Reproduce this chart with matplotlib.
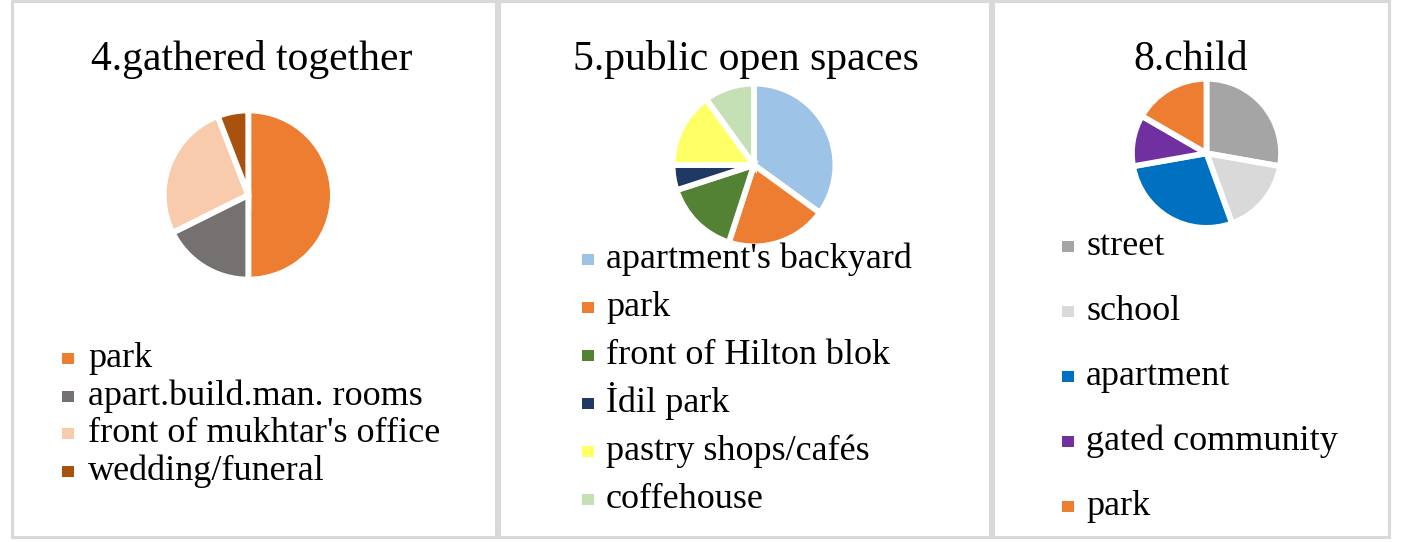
import matplotlib
matplotlib.use('Agg')
import matplotlib.pyplot as plt
from matplotlib.patches import Rectangle

plt.rcParams['font.family'] = ['Liberation Serif', 'DejaVu Serif']

# chart 4: where people gathered together (counts)
gather_labels = ['park', 'apart.build.man. rooms', "front of mukhtar's office", 'wedding/funeral']
gather_values = [17, 6, 9, 2]
gather_colors = ['#ED7D31', '#767171', '#F8CBAD', '#A9510F']

# chart 5: public open spaces (%)
open_labels = ["apartment's backyard", 'park', 'front of Hilton blok', 'İdil park',
               'pastry shops/cafés', 'coffehouse']
open_values = [35, 20, 15, 5, 15, 10]
open_colors = ['#9DC3E6', '#ED7D31', '#548235', '#203864', '#FFFF66', '#C5E0B4']

# chart 8: where the child plays (counts)
child_labels = ['street', 'school', 'apartment', 'gated community', 'park']
child_values = [5, 3, 5, 2, 3]
child_colors = ['#A5A5A5', '#D9D9D9', '#0070C0', '#7030A0', '#ED7D31']

W, H = 1427, 542
fig = plt.figure(figsize=(W / 100, H / 100), dpi=100)


def fx(x):
    return x / W


def fy(y):
    return 1 - y / H


# panel frames (left, right) in pixels
frames = [(12, 496), (499, 989.5), (992.5, 1389)]
for left, right in frames:
    fig.patches.append(Rectangle((fx(left), fy(537)), fx(right - left), (537 - 1) / H,
                                 transform=fig.transFigure, fill=False,
                                 edgecolor='#D9D9D9', linewidth=2.2))

panels = [
    dict(title='4.gathered together', tx=252, cx=248.3, cy=195, r=81.7,
         labels=gather_labels, values=gather_values, colors=gather_colors,
         mx=62, lx=88, base=367, step=37.7),
    dict(title='5.public open spaces', tx=746, cx=754, cy=165, r=78.5,
         labels=open_labels, values=open_values, colors=open_colors,
         mx=582, lx=606, base=268.3, step=48),
    dict(title='8.child', tx=1191, cx=1206.5, cy=153.3, r=71.7,
         labels=child_labels, values=child_values, colors=child_colors,
         mx=1062, lx=1086, base=255, step=65),
]

lw = 4.2
for p in panels:
    fig.text(fx(p['tx']), fy(70), p['title'], fontsize=30, ha='center', va='baseline')

    rg = p['r'] + lw * 100 / 72 / 2
    side = 2.3 * rg
    ax = fig.add_axes([fx(p['cx'] - side / 2), fy(p['cy'] + side / 2), side / W, side / H])
    ax.pie(p['values'], colors=p['colors'], startangle=90, counterclock=False,
           wedgeprops=dict(edgecolor='white', linewidth=lw))
    ax.set_xlim(-1.15, 1.15)
    ax.set_ylim(-1.15, 1.15)
    ax.set_aspect('equal')
    ax.axis('off')

    # legend drawn row by row
    for i, (lab, col) in enumerate(zip(p['labels'], p['colors'])):
        by = p['base'] + i * p['step']
        fig.patches.append(Rectangle((fx(p['mx']), fy(by - 3)), 12 / W, 11 / H,
                                     transform=fig.transFigure, facecolor=col,
                                     edgecolor='none'))
        fig.text(fx(p['lx']), fy(by), lab, fontsize=26, ha='left', va='baseline')

fig.savefig('out.png', dpi=100, facecolor='white')
